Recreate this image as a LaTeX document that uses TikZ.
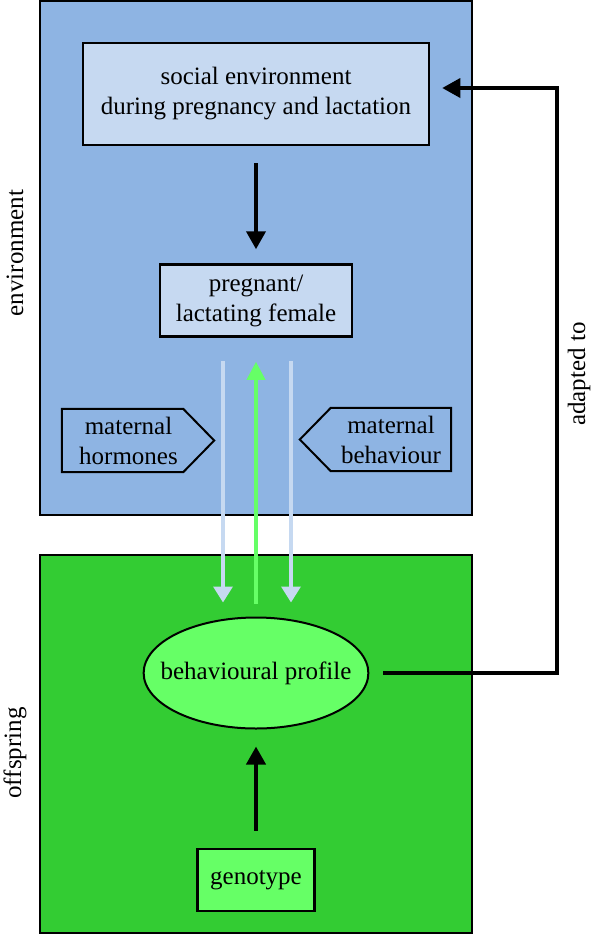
\documentclass[tikz,border=0pt]{standalone}
\usepackage{fontspec}
\setmainfont{Liberation Serif}
\usetikzlibrary{positioning,arrows.meta,shapes.geometric}

\definecolor{envblue}{HTML}{8EB4E3}
\definecolor{paleblue}{HTML}{C6D9F1}
\definecolor{offgreen}{HTML}{33CC33}
\definecolor{palegreen}{HTML}{66FF66}

\begin{document}
\begin{tikzpicture}[x=1pt, y=-1pt,
		every node/.style={font=\fontsize{25}{30}\selectfont, align=center},
		region/.style={draw=black, line width=2pt},
		bluebox/.style={draw=black, line width=2.5pt, fill=paleblue, inner sep=0pt},
		greenbox/.style={draw=black, line width=2.5pt, fill=palegreen, inner sep=0pt},
		tagtext/.style={inner sep=0pt, minimum width=121pt, minimum height=63pt},
		tagline/.style={draw=black, line width=2pt, line join=miter},
		blackarrow/.style={line width=4pt, -{Triangle[width=19pt,length=18pt]}},
		bluearrow/.style={paleblue, line width=3.5pt, -{Triangle[width=19pt,length=16pt]}},
		greenarrow/.style={palegreen, line width=3.5pt, -{Triangle[width=18pt,length=18pt]}}]

		\useasboundingbox (0,0) rectangle (592,935);

		\draw[region, fill=envblue] (40,1) rectangle (472,515);
		\draw[region, fill=offgreen] (40,555) rectangle (472,933);

		\node[rotate=90] (envlabel) at (15,253) {environment};
		\node[rotate=90] (offlabel) at (15,753) {offspring};
		\node[rotate=90] (adaptlabel) at (579,374) {adapted to};

		\node[bluebox, minimum width=346pt, minimum height=102pt] (social) at (256,94) {social environment\\during pregnancy and lactation};
		\node[bluebox, minimum width=192pt, minimum height=72pt, below=117pt of social] (female) {pregnant/\\lactating female};

		\node[tagtext] (hormones) at (122.5,440.5) {};
		\draw[tagline] (hormones.north west) -- (hormones.north east) -- ([xshift=31pt]hormones.east) -- (hormones.south east) -- (hormones.south west) -- cycle;
		\node at ([xshift=6pt]hormones.center) {maternal\\hormones};
		\node[tagtext, minimum width=120pt] (behaviour) at (391,439.5) {maternal\\behaviour};
		\draw[tagline] (behaviour.north east) -- (behaviour.north west) -- ([xshift=-31pt]behaviour.west) -- (behaviour.south west) -- (behaviour.south east) -- cycle;

		\node[ellipse, draw=black, line width=2pt, fill=palegreen, minimum height=111pt, inner xsep=-16pt, inner ysep=0pt] (profile) at (256,673) {behavioural profile};
		\node[greenbox, minimum width=117pt, minimum height=62pt, below=118pt of profile] (genotype) {genotype};

		\coordinate (corner top) at (557,88);

		\draw[blackarrow, shorten <=17pt, shorten >=14pt] (social) -- (female);
		\draw[bluearrow] ([xshift=-33pt,yshift=-23pt]female.south) -- ([xshift=-33pt,yshift=14pt]profile.north);
		\draw[bluearrow] ([xshift=35pt,yshift=-23pt]female.south) -- ([xshift=35pt,yshift=14pt]profile.north);
		\draw[greenarrow, shorten <=13pt, shorten >=24pt] (profile.north) -- (female.south);
		\draw[blackarrow, shorten <=17pt, shorten >=17pt] (genotype) -- (profile);
		\draw[line width=3.5pt, line join=miter, -{Triangle[width=19pt,length=18pt]}, shorten >=12pt] ([xshift=14pt]profile.east) -| (corner top) -- (social.east |- corner top);

\end{tikzpicture}
\end{document}
